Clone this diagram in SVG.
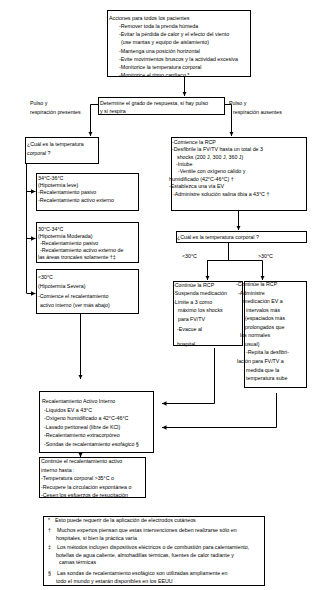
<svg xmlns="http://www.w3.org/2000/svg" width="317" height="590" viewBox="0 0 317 590">
<style>
.b{fill:#fff;stroke:#000;stroke-width:1}
.t{font-family:"Liberation Sans",Arial,sans-serif;font-size:5.3px;fill:#000}
.c{stroke:#000;stroke-width:1;fill:none}
.a{marker-end:url(#ah)}
</style>
<defs>
<marker id="ah" viewBox="0 0 6 6" refX="6" refY="3" markerWidth="4.5" markerHeight="4.5" markerUnits="userSpaceOnUse" orient="auto">
<path d="M0,0 L6,3 L0,6 z" fill="#000"/>
</marker>
</defs>
<rect width="317" height="590" fill="#fff"/>

<g id="connectors">
<path class="c a" d="M184.5,76 V96"/>
<path class="c a" d="M98,104.5 H90.5 V136"/>
<path class="c a" d="M224,104.5 H231.5 V136"/>
<path class="c" d="M26.5,163 V293"/>
<path class="c a" d="M26.5,191.5 H35.5"/>
<path class="c a" d="M26.5,238.5 H35.5"/>
<path class="c a" d="M26.5,293.5 H35.5"/>
<path class="c a" d="M80.5,314 V379"/>
<path class="c a" d="M238.5,210 V230"/>
<path class="c" d="M228.5,242 V260.5"/>
<path class="c a" d="M207.5,260.5 H262.5 V280"/>
<path class="c a" d="M207.5,260 V280"/>
<path class="c a" d="M214.5,348 V403.5 H162"/>
<path class="c a" d="M276.5,393 V427.5 H162"/>
<path class="c a" d="M80.5,452 V457"/>
</g>

<g id="n-acciones">
<rect class="b" x="107.5" y="10.5" width="143" height="66"/>
<text class="t" x="109" y="20">Acciones para todos los pacientes</text>
<text class="t" x="119" y="28.2">-Remover toda la prenda húmeda</text>
<text class="t" x="119" y="36.3">-Evitar la pérdida de calor y el efecto del viento</text>
<text class="t" x="121" y="44.4">(use mantas y equipo de aislamiento)</text>
<text class="t" x="119" y="52.5">-Mantenga una posición horizontal</text>
<text class="t" x="119" y="60.6">-Evite movimientos bruscos y la actividad excesiva</text>
<text class="t" x="119" y="68.7">-Monitorice la temperatura corporal</text>
<text class="t" x="119" y="76.8">-Monitorice el ritmo cardíaco *</text>
</g>

<g id="n-determine">
<rect class="b" x="98.5" y="97.5" width="126" height="17"/>
<text class="t" x="100" y="105">Determine el grado de respuesta, si hay pulso</text>
<text class="t" x="100" y="113">y si respira</text>
</g>

<g id="l-presentes">
<text class="t" x="30" y="105">Pulso y</text>
<text class="t" x="30" y="114">respiración presentes</text>
</g>
<g id="l-ausentes">
<text class="t" x="229" y="105">Pulso y</text>
<text class="t" x="233" y="114">respiración ausentes</text>
</g>

<g id="n-cual1">
<rect class="b" x="25.5" y="137.5" width="73" height="26"/>
<text class="t" x="27" y="146">¿Cuál es la temperatura</text>
<text class="t" x="27" y="155">corporal ?</text>
</g>

<g id="n-leve">
<rect class="b" x="36.5" y="173.5" width="102" height="37"/>
<text class="t" x="38" y="180">34°C-36°C</text>
<text class="t" x="38" y="187">(Hipotermia leve)</text>
<text class="t" x="38" y="194">-Recalentamiento pasivo</text>
<text class="t" x="38" y="201.5">-Recalentamiento activo externo</text>
</g>

<g id="n-moderada">
<rect class="b" x="36.5" y="222.5" width="102" height="40"/>
<text class="t" x="38" y="231">30°C-34°C</text>
<text class="t" x="38" y="238">(Hipotermia Moderada)</text>
<text class="t" x="40" y="245">-Recalentamiento pasivo</text>
<text class="t" x="40" y="252">-Recalentamiento activo externo de</text>
<text class="t" x="38" y="259">las áreas troncales solamente †‡</text>
</g>

<g id="n-severa">
<rect class="b" x="36.5" y="269.5" width="102" height="44"/>
<text class="t" x="38" y="279">&lt;30°C</text>
<text class="t" x="38" y="288">(Hipotermia Severa)</text>
<text class="t" x="38" y="297.5">-Comience el recalentamiento</text>
<text class="t" x="40" y="307">activo interno (ver más abajo)</text>
</g>

<g id="n-rcp">
<rect class="b" x="171.5" y="137.5" width="135" height="73"/>
<text class="t" x="172" y="144">-Comience la RCP</text>
<text class="t" x="172" y="151.3">-Desfibrile la FV/TV hasta un total de 3</text>
<text class="t" x="177" y="158.6">shocks (200 J, 300 J, 360 J)</text>
<text class="t" x="176" y="166">-Intube</text>
<text class="t" x="178" y="173.3">-Ventile con oxígeno cálido y</text>
<text class="t" x="169" y="180.6">humidificado (42°C-46°C) †</text>
<text class="t" x="169" y="188">-Establezca una vía EV</text>
<text class="t" x="173" y="196">-Administre solución salina tibia a 43°C †</text>
</g>

<g id="n-cual2">
<rect class="b" x="176.5" y="231.5" width="130" height="11"/>
<text class="t" x="177" y="239">¿Cuál es la temperatura corporal ?</text>
</g>
<g id="l-menor">
<text class="t" x="182" y="258">&lt;30°C</text>
</g>
<g id="l-mayor">
<text class="t" x="258" y="258">&gt;30°C</text>
</g>

<g id="n-menor30">
<rect class="b" x="173.5" y="281.5" width="69" height="64"/>
<text class="t" x="173" y="286.5">-Continúe la RCP</text>
<text class="t" x="173" y="295">-Suspenda medicación</text>
<text class="t" x="173" y="303.5">-Limite a 3 como</text>
<text class="t" x="178" y="312">máximo los shocks</text>
<text class="t" x="178" y="320.5">para FV/TV</text>
<text class="t" x="177" y="331">-Evacue al</text>
<text class="t" x="177" y="345.5">hospital</text>
</g>

<g id="n-mayor30">
<rect class="b" x="244.5" y="281.5" width="62" height="106"/>
<text class="t" x="236" y="286">-Continúe la RCP</text>
<text class="t" x="238" y="294.5">-Administre</text>
<text class="t" x="243" y="303.1">medicación EV a</text>
<text class="t" x="246" y="311.6">intervalos más</text>
<text class="t" x="245" y="320.2">(espaciados más</text>
<text class="t" x="245" y="328.8">prolongados que</text>
<text class="t" x="240" y="337.3">los normales</text>
<text class="t" x="245" y="345.9">usual)</text>
<text class="t" x="246" y="354.4">-Repita la desfibri-</text>
<text class="t" x="237" y="363">lación para FV/TV a</text>
<text class="t" x="246" y="371.5">medida que la</text>
<text class="t" x="246" y="380">temperatura sube</text>
</g>

<g id="n-interno">
<rect class="b" x="39.5" y="391.5" width="114" height="61"/>
<text class="t" x="42" y="403">Recalentamiento Activo Interno</text>
<text class="t" x="44" y="411.5">-Líquidos EV a 43°C</text>
<text class="t" x="44" y="420">-Oxígeno humidificado a 42°C-46°C</text>
<text class="t" x="44" y="428.5">-Lavado peritoneal (libre de KCl)</text>
<text class="t" x="44" y="437">-Recalentamiento extracorpóreo</text>
<text class="t" x="44" y="445.5">-Sondas de recalentamiento esofágico §</text>
</g>

<g id="n-continue">
<rect class="b" x="39.5" y="457.5" width="106" height="40"/>
<text class="t" x="41" y="463">Continúe el recalentamiento activo</text>
<text class="t" x="41" y="471.5">interno hasta :</text>
<text class="t" x="41" y="480">-Temperatura corporal &gt;35°C o</text>
<text class="t" x="41" y="488.5">-Recupere la circulación espontánea o</text>
<text class="t" x="41" y="497">-Cesen los esfuerzos de resucitación</text>
</g>

<g id="n-notas">
<rect class="b" x="43.5" y="516.5" width="221" height="69"/>
<text class="t" x="48" y="522">*</text>
<text class="t" x="55" y="522">Esto puede requerir de la aplicación de electrodos cutáneos</text>
<text class="t" x="48" y="532">†</text>
<text class="t" x="57" y="532">Muchos expertos piensan que estas intervenciones deben realizarse sólo en</text>
<text class="t" x="56" y="539.5">hospitales, si bien la práctica varía</text>
<text class="t" x="48" y="549">‡</text>
<text class="t" x="57" y="549">Los métodos incluyen dispositivos eléctricos o de combustión para calentamiento,</text>
<text class="t" x="56" y="556.5">botellas de agua caliente, almohadillas térmicas, fuentes de calor radiante y</text>
<text class="t" x="59" y="564">camas térmicas</text>
<text class="t" x="48" y="575">§</text>
<text class="t" x="57" y="575">Las sondas de recalentamiento esofágico son utilizadas ampliamente en</text>
<text class="t" x="56" y="583">todo el mundo y estarán disponibles en los EEUU</text>
</g>
</svg>
